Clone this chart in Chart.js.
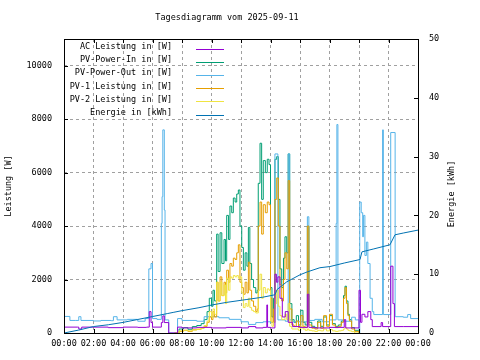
<!DOCTYPE html>
<html>
<head>
<meta charset="utf-8">
<script src="https://cdn.jsdelivr.net/npm/chart.js@4/dist/chart.umd.min.js"></script>
<style>
  html, body { margin: 0; padding: 0; background: #fff; }
  canvas { display: block; }
</style>
</head>
<body>
<canvas id="myChart" width="480" height="360"></canvas>
<script>
var titleText = 'Tagesdiagramm vom 2025-09-11';
var leftTitle = 'Leistung [W]';
var rightTitle = 'Energie [kWh]';
var legendLabels = ['AC Leistung in [W]', 'PV-Power-In in [W]', 'PV-Power-Out in [W]', 'PV-1 Leistung in [W]', 'PV-2 Leistung in [W]', 'Energie in [kWh]'];
var colors = ['#9400d3', '#009e73', '#56b4e9', '#e69f00', '#f0e442', '#0072b2'];
var hourTicks = [0, 2, 4, 6, 8, 10, 12, 14, 16, 18, 20, 22, 24];
var wattTicks = [0, 2000, 4000, 6000, 8000, 10000];
var kwhTicks = [0, 10, 20, 30, 40, 50];

// time in hours
var acTimes = [0, 0.9, 1.0, 1.2, 3.0, 4.0, 5.0, 5.6, 5.78, 5.9, 6.0, 6.6, 6.7, 6.8, 7.1, 7.7, 8.0, 9.0, 10.0, 11.0, 12.0, 12.5, 13.0, 13.5, 13.75, 13.8, 14.0, 14.3, 14.4, 14.5, 14.64, 14.8, 15.0, 15.2, 15.5, 16.0, 16.5, 16.6, 17.0, 18.0, 19.0, 19.1, 20.0, 20.1, 20.2, 20.4, 20.6, 20.8, 20.9, 21.5, 21.6, 22.15, 22.3, 22.4, 23.0, 24];
var acPower = [220, 220, 150, 220, 200, 220, 210, 220, 800, 390, 220, 390, 640, 390, 0, 220, 190, 210, 190, 210, 190, 240, 190, 210, 1050, 210, 190, 2200, 1900, 2100, 1300, 600, 800, 400, 240, 210, 1450, 210, 190, 210, 500, 190, 1600, 400, 700, 600, 800, 500, 240, 390, 240, 2500, 1100, 240, 240, 240];

var outTimes = [0, 0.4, 0.8, 1.0, 1.15, 2.0, 2.5, 3.2, 3.35, 3.6, 4.3, 5.0, 5.5, 5.75, 5.9, 6.0, 6.3, 6.6, 6.65, 6.7, 6.8, 6.85, 7.1, 7.7, 8.0, 9.0, 9.5, 10.5, 11.2, 12.0, 12.5, 13.0, 13.5, 14.0, 14.3, 14.5, 15.0, 15.2, 15.3, 15.5, 16.5, 16.6, 17.0, 17.5, 18.0, 18.45, 18.5, 18.57, 19.0, 19.5, 19.75, 20.0, 20.05, 20.15, 20.25, 20.3, 20.4, 20.5, 20.6, 20.75, 20.9, 21.0, 21.6, 21.65, 22.15, 22.45, 23.0, 23.3, 23.5, 24];
var pvOut = [620, 470, 470, 610, 470, 450, 470, 460, 610, 490, 510, 440, 540, 2400, 2600, 540, 510, 4100, 5100, 7600, 4600, 490, 0, 540, 470, 440, 610, 570, 510, 420, 320, 390, 420, 390, 6700, 490, 440, 6700, 490, 420, 4350, 470, 510, 420, 490, 4100, 7800, 490, 440, 590, 490, 0, 4900, 4500, 3600, 4400, 2900, 3400, 2600, 1300, 800, 690, 7600, 690, 7500, 610, 590, 690, 540, 540];

var pvTimes = [7.5, 7.8, 8.1, 8.4, 8.7, 9.0, 9.3, 9.5, 9.7, 9.85, 10.0, 10.1, 10.2, 10.35, 10.45, 10.58, 10.7, 10.85, 10.95, 11.03, 11.15, 11.25, 11.37, 11.48, 11.6, 11.71, 11.82, 11.93, 12.05, 12.16, 12.28, 12.4, 12.5, 12.6, 12.72, 12.85, 13.0, 13.1, 13.17, 13.29, 13.4, 13.51, 13.65, 13.78, 13.9, 14.0, 14.1, 14.2, 14.3, 14.42, 14.53, 14.64, 14.76, 14.88, 14.98, 15.1, 15.2, 15.3, 15.45, 15.6, 15.75, 15.9, 16.05, 16.2, 16.35, 16.5, 16.6, 16.8, 17.0, 17.2, 17.4, 17.6, 17.8, 18.0, 18.2, 18.4, 18.6, 18.8, 18.95, 19.05, 19.15, 19.25, 19.35, 19.5, 19.7, 20.0];
var pvIn = [0, 150, 200, 140, 240, 280, 350, 500, 800, 1300, 1000, 1600, 1200, 3700, 2300, 3750, 2600, 3500, 2700, 4400, 3500, 4750, 4500, 5050, 4900, 5200, 5350, 4000, 3200, 2350, 3000, 2500, 3950, 2600, 2000, 1700, 1500, 1600, 5600, 7100, 5000, 6450, 6000, 6500, 6300, 1700, 600, 1300, 6500, 6600, 5000, 2400, 1700, 2800, 3600, 3000, 6700, 1100, 500, 400, 650, 300, 850, 400, 300, 4000, 400, 250, 200, 450, 250, 600, 300, 650, 350, 250, 300, 450, 1400, 1750, 1200, 700, 500, 200, 100, 0];
var pv1 = [0, 60, 100, 60, 120, 140, 180, 250, 400, 600, 500, 800, 600, 1900, 1200, 2100, 1400, 1900, 1500, 2350, 1900, 2600, 2500, 2800, 2750, 3000, 3300, 1900, 1700, 1450, 1900, 1500, 2650, 1600, 1200, 1000, 800, 900, 4000, 4900, 3700, 4800, 4500, 4900, 4800, 1300, 400, 900, 5000, 5800, 4000, 1800, 1200, 2000, 3000, 2400, 5700, 900, 300, 250, 450, 200, 650, 250, 200, 4000, 300, 180, 150, 400, 180, 650, 250, 700, 300, 200, 250, 400, 1300, 1700, 1100, 650, 450, 150, 60, 0];
var pv2 = [0, 80, 100, 80, 110, 140, 180, 280, 450, 800, 600, 900, 700, 1900, 1200, 1900, 1400, 1800, 1100, 2050, 1600, 2100, 2050, 2150, 2100, 2150, 2050, 2100, 1500, 950, 1100, 1000, 1300, 950, 850, 800, 750, 750, 1600, 2200, 1300, 1700, 1500, 1650, 1600, 450, 250, 400, 1100, 1600, 1000, 650, 500, 500, 700, 500, 1100, 250, 150, 150, 150, 100, 250, 150, 100, 150, 100, 80, 60, 100, 80, 150, 80, 130, 80, 60, 80, 100, 150, 200, 150, 100, 80, 50, 0, 0];

var enTimes = [0, 1, 2, 3, 4, 5, 6, 7, 7.4, 8, 9.15, 10.1, 11, 12.4, 13.5, 14.3, 14.45, 15.1, 16.0, 16.5, 17.35, 18.03, 19, 20.07, 20.2, 21, 22.1, 22.44, 23, 24];
var energie = [0, 0.5, 1.1, 1.4, 1.8, 2.3, 2.8, 3.3, 3.5, 3.8, 4.3, 4.8, 5.2, 5.7, 6.1, 6.5, 7.4, 8.7, 9.9, 10.4, 11.1, 11.3, 11.9, 12.5, 13.8, 14.3, 15.0, 16.7, 17.0, 17.5];

var fontMono = '8.5px "DejaVu Sans Mono"';

function pts(t, v) {
  var out = [];
  for (var i = 0; i < t.length; i++) out.push({x: t[i], y: v[i]});
  return out;
}

function fixedTicks(list) {
  return function(s) {
    s.ticks = list.map(function(v) { return {value: v}; });
  };
}

function hourLabel(v) {
  var h = v % 24;
  return (h < 10 ? '0' : '') + h + ':00';
}

function plainLabel(v) {
  return String(v);
}

var overlay = {
  id: 'overlay',
  afterDraw: function(chart) {
    var ctx = chart.ctx, a = chart.chartArea;
    var sx = chart.scales.x, sy = chart.scales.y, sy1 = chart.scales.y1;
    ctx.save();
    ctx.font = fontMono;
    ctx.fillStyle = '#000';
    ctx.textBaseline = 'middle';
    ctx.textAlign = 'center';
    ctx.fillText(titleText, 227, 18);

    ctx.save(); ctx.translate(9, 186); ctx.rotate(-Math.PI / 2); ctx.fillText(leftTitle, 0, 0); ctx.restore();
    ctx.save(); ctx.translate(452, 194); ctx.rotate(-Math.PI / 2); ctx.fillText(rightTitle, 0, 0); ctx.restore();

    // frame + inward ticks
    ctx.strokeStyle = '#000';
    ctx.lineWidth = 1;
    ctx.strokeRect(a.left + 0.5, a.top + 0.5, a.right - a.left, a.bottom - a.top);
    ctx.beginPath();
    sx.ticks.forEach(function(t) {
      var px = Math.round(sx.getPixelForValue(t.value)) + 0.5;
      ctx.moveTo(px, a.bottom); ctx.lineTo(px, a.bottom - 4);
      ctx.moveTo(px, a.top); ctx.lineTo(px, a.top + 4);
    });
    sy.ticks.forEach(function(t) {
      var py = Math.round(sy.getPixelForValue(t.value)) + 0.5;
      ctx.moveTo(a.left, py); ctx.lineTo(a.left + 4, py);
    });
    sy1.ticks.forEach(function(t) {
      var py = Math.round(sy1.getPixelForValue(t.value)) + 0.5;
      ctx.moveTo(a.right, py); ctx.lineTo(a.right - 4, py);
    });
    ctx.stroke();

    // legend
    ctx.textAlign = 'right';
    for (var i = 0; i < legendLabels.length; i++) {
      var ly = 47 + i * 13.1;
      ctx.fillStyle = '#000';
      ctx.fillText(legendLabels[i], 172, ly);
      ctx.strokeStyle = colors[i];
      ctx.beginPath();
      ctx.moveTo(196, Math.round(ly + 2) + 0.5);
      ctx.lineTo(224, Math.round(ly + 2) + 0.5);
      ctx.stroke();
    }
    ctx.restore();
  }
};

var ctx = document.getElementById('myChart').getContext('2d');
var myChart = new Chart(ctx, {
  type: 'line',
  data: {
    datasets: [
      {data: pts(acTimes, acPower), borderColor: colors[0], stepped: 'before', order: 1},
      {data: pts(pvTimes, pvIn), borderColor: colors[1], stepped: 'before', order: 5},
      {data: pts(outTimes, pvOut), borderColor: colors[2], stepped: 'before', order: 4},
      {data: pts(pvTimes, pv1), borderColor: colors[3], stepped: 'before', order: 3},
      {data: pts(pvTimes, pv2), borderColor: colors[4], stepped: 'before', order: 2},
      {data: pts(enTimes, energie), borderColor: colors[5], yAxisID: 'y1', order: 0}
    ]
  },
  options: {
    responsive: false,
    animation: false,
    layout: {padding: {top: 39, left: 0, right: 0, bottom: 0}},
    elements: {
      point: {radius: 0},
      line: {borderWidth: 1, tension: 0, fill: false}
    },
    plugins: {
      legend: {display: false},
      tooltip: {enabled: false},
      title: {display: false}
    },
    scales: {
      x: {
        type: 'linear', min: 0, max: 24,
        afterBuildTicks: fixedTicks(hourTicks),
        ticks: {autoSkip: false, maxRotation: 0, padding: 6, color: '#000',
          font: {family: 'DejaVu Sans Mono', size: 8.5}, callback: hourLabel},
        grid: {color: '#a0a0a0', drawTicks: false},
        border: {display: false, dash: [3, 3]},
        afterFit: function(s) { s.height = 27; }
      },
      y: {
        position: 'left', min: 0, max: 11000,
        afterBuildTicks: fixedTicks(wattTicks),
        ticks: {padding: 12, color: '#000', font: {family: 'DejaVu Sans Mono', size: 8.5}, callback: plainLabel},
        grid: {color: '#a0a0a0', drawTicks: false},
        border: {display: false, dash: [3, 3]},
        afterFit: function(s) { s.width = 64; }
      },
      y1: {
        position: 'right', min: 0, max: 50,
        afterBuildTicks: fixedTicks(kwhTicks),
        ticks: {padding: 11, color: '#000', font: {family: 'DejaVu Sans Mono', size: 8.5}, callback: plainLabel},
        grid: {display: false, drawTicks: false},
        border: {display: false},
        afterFit: function(s) { s.width = 62; }
      }
    }
  },
  plugins: [overlay]
});
</script>
</body>
</html>
